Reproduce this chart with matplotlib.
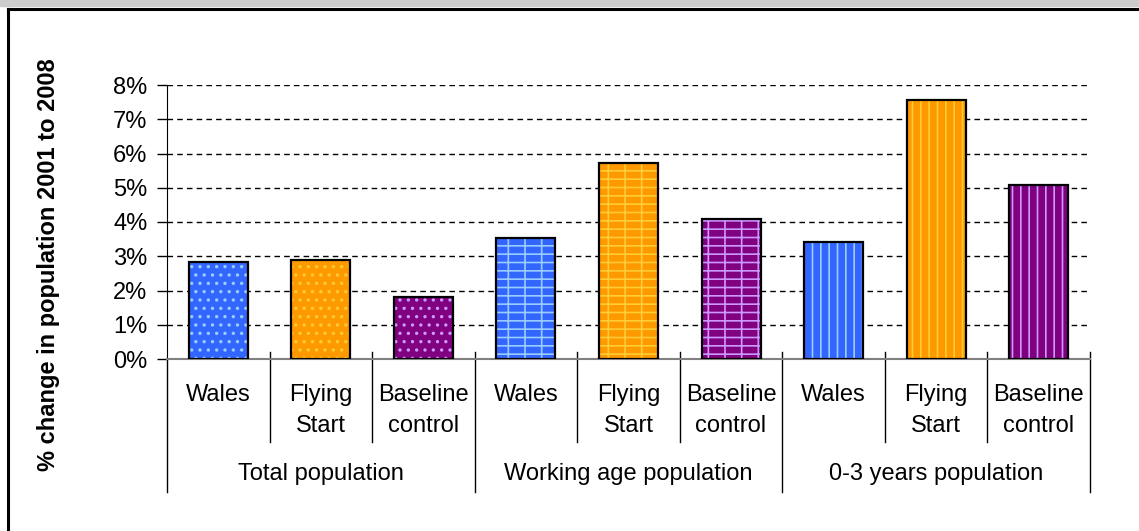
import numpy as np
import matplotlib.pyplot as plt
from matplotlib.patches import Rectangle

plt.rcParams['font.family'] = ['Liberation Sans', 'DejaVu Sans']

# Data
groups = ['Total population', 'Working age population', '0-3 years population']
areas_line1 = ['Wales', 'Flying', 'Baseline']
areas_line2 = ['', 'Start', 'control']
values = [
    [2.83, 2.89, 1.81],   # Total population
    [3.53, 5.73, 4.08],   # Working age population
    [3.43, 7.56, 5.09],   # 0-3 years population
]
ylabel = '% change in population 2001 to 2008'

fills = ['#3366FF', '#FF9900', '#800080']
hatch_cols = ['#99CCFF', '#FFCC33', '#CC99FF']
hatches = ['..', '--|', '||']

W, H = 1139, 531
fig = plt.figure(figsize=(W / 100, H / 100), dpi=100)

# grey strip and frame at the top/left
fig.patches.append(Rectangle((0, 1 - 6 / H), 1, 6 / H, transform=fig.transFigure,
                             color='#CCCCCC', zorder=0))
fig.add_artist(plt.Line2D([8 / W, 1], [1 - 9 / H, 1 - 9 / H], color='black', lw=2.2,
                          transform=fig.transFigure))
fig.add_artist(plt.Line2D([8 / W, 8 / W], [0, 1 - 9 / H], color='black', lw=2.2,
                          transform=fig.transFigure))

x0, x1, y0, y1 = 167, 1090, 359, 85
ax = fig.add_axes([x0 / W, 1 - y0 / H, (x1 - x0) / W, (y0 - y1) / H])

plt.rcParams['hatch.linewidth'] = 1.2
width = 0.575
for g, vals in enumerate(values):
    xs = np.arange(3) + 3 * g
    for i in range(3):
        ax.bar(xs[i], vals[i], width, color=fills[i], edgecolor=hatch_cols[i],
               hatch=hatches[g], linewidth=0, zorder=3)
        ax.bar(xs[i], vals[i], width, fill=False, edgecolor='black', linewidth=1.6, zorder=4)

ax.set_xlim(-0.5, 8.5)
ax.set_ylim(0, 8)
ax.set_yticks(np.arange(0, 9))
ax.set_yticklabels([f'{v}%' for v in range(9)], fontsize=17)
ax.tick_params(axis='y', length=7, pad=7, direction='out', width=1)
ax.set_xticks([])
for s in ['top', 'right']:
    ax.spines[s].set_visible(False)
ax.spines['left'].set_color('black')
ax.spines['bottom'].set_color('#808080')
ax.spines['bottom'].set_linewidth(1.5)
for yv in range(1, 9):
    ax.axhline(yv, color='black', lw=1, linestyle=(0, (4, 3)), zorder=1)

# category separators and labels
tr = ax.get_xaxis_transform()
def ay(py):
    return -(py - y0) / (y0 - y1)

for k in range(10):
    xb = k - 0.5
    bottom = 492 if k % 3 == 0 else 442
    if k == 0:
        ax.plot([xb, xb], [0, ay(bottom)], color='black', lw=1, transform=tr, clip_on=False)
    else:
        ax.plot([xb, xb], [ay(352), ay(bottom)], color='black', lw=1, transform=tr, clip_on=False)

for g, name in enumerate(groups):
    for i in range(3):
        xc = 3 * g + i
        ax.text(xc, ay(401), areas_line1[i], ha='center', va='baseline', fontsize=17,
                transform=tr)
        if areas_line2[i]:
            ax.text(xc, ay(432), areas_line2[i], ha='center', va='baseline', fontsize=17,
                    transform=tr)
    ax.text(3 * g + 1, ay(480), name, ha='center', va='baseline', fontsize=17, transform=tr)

fig.text(49 / W, 1 - 265 / H, ylabel, rotation=90, ha='center', va='center',
         fontsize=17, fontweight='bold')

fig.savefig('out.png', dpi=100)
